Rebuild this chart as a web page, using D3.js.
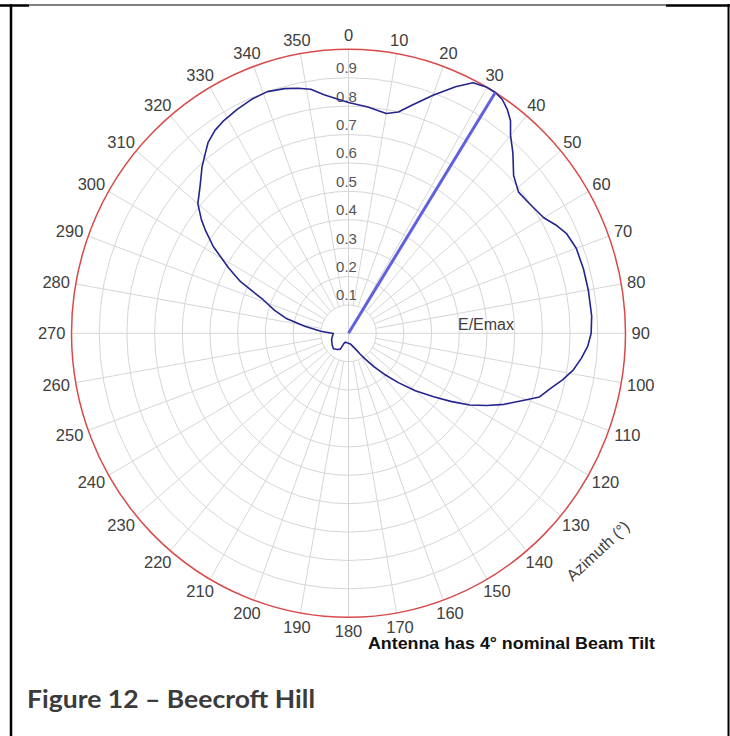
<!DOCTYPE html>
<html><head><meta charset="utf-8">
<script src="https://cdn.jsdelivr.net/npm/d3@7"></script>
<style>body{margin:0;background:#fff} svg{display:block}</style>
</head><body>
<svg id="c" width="730" height="736"></svg>
<script>
// ---- data ----
const azimuth = [0,5,10,13,16,20,24,27,30,32,34,36,38,40,43,47,51,55,60,63,66,70,75,80,86,90,93,96,99,102,105,108,111,114,117,120,123,126,130,134,138,142,146,150,154,160,170,180,190,200,205,208,215,225,235,250,262,269,274,279,283,287,291,295,298,302,305,307,310,314,318,321,323,326,329,333,337,341,345,348,351,354,357,360];
const eRel =    [0.813,0.80,0.786,0.80,0.836,0.892,0.95,0.99,1.0,1.0,0.993,0.975,0.95,0.91,0.87,0.815,0.79,0.797,0.814,0.84,0.862,0.875,0.878,0.879,0.88,0.876,0.865,0.845,0.822,0.79,0.754,0.725,0.665,0.615,0.56,0.505,0.44,0.38,0.315,0.25,0.195,0.15,0.112,0.085,0.066,0.051,0.038,0.035,0.034,0.033,0.04,0.063,0.07,0.077,0.072,0.065,0.058,0.055,0.10,0.16,0.23,0.28,0.33,0.43,0.49,0.575,0.63,0.665,0.71,0.745,0.79,0.82,0.842,0.862,0.874,0.885,0.895,0.90,0.892,0.882,0.87,0.845,0.827,0.813];
const angleTicks = d3.range(0, 360, 10);
const radiusTicks = [0.1,0.2,0.3,0.4,0.5,0.6,0.7,0.8,0.9];
const beamAzimuth = [32];
const beamValue = [1.0];
const axisTitle = "E/Emax";
const angleTitle = "Azimuth (°)";
const noteText = "Antenna has 4° nominal Beam Tilt";
const captionText = "Figure 12 – Beecroft Hill";

// ---- layout ----
const svg = d3.select("#c");
const cx = 348.5, cy = 333.3;
const rX = d3.scaleLinear().domain([0,1]).range([0,277]);
const rY = d3.scaleLinear().domain([0,1]).range([0,284]);
const ang = d3.scaleLinear().domain([0,360]).range([0, 2*Math.PI]);
const px = (a,r) => cx + rX(r)*Math.sin(ang(a));
const py = (a,r) => cy - rY(r)*Math.cos(ang(a));
const FONT = "'Liberation Sans', Arial, sans-serif";

// frame
const frame = svg.append("g").attr("stroke","#000");
frame.append("line").attr("x1",0).attr("x2",29).attr("y1",5.5).attr("y2",5.5).attr("stroke-width",2.5);
frame.append("line").attr("x1",29).attr("x2",666).attr("y1",5).attr("y2",5).attr("stroke-width",1);
frame.append("line").attr("x1",666).attr("x2",730).attr("y1",5.5).attr("y2",5.5).attr("stroke-width",2.5);
frame.append("line").attr("x1",11).attr("x2",11).attr("y1",4).attr("y2",736).attr("stroke-width",2.5);
frame.append("line").attr("x1",728.5).attr("x2",728.5).attr("y1",4).attr("y2",736).attr("stroke-width",2);

// grid
const grid = svg.append("g").attr("fill","none").attr("stroke","#d6d6d6").attr("stroke-width",1);
grid.selectAll("ellipse.r").data(radiusTicks).join("ellipse")
  .attr("cx",cx).attr("cy",cy).attr("rx",d=>rX(d)).attr("ry",d=>rY(d));
grid.selectAll("line.s").data(angleTicks).join("line")
  .attr("x1",d=> px(d, d%90===0 ? 0 : 0.1)).attr("y1",d=> py(d, d%90===0 ? 0 : 0.1))
  .attr("x2",d=>px(d,1)).attr("y2",d=>py(d,1));
svg.append("ellipse").attr("cx",cx).attr("cy",cy).attr("rx",rX(1)).attr("ry",rY(1))
  .attr("fill","none").attr("stroke","#d84a4a").attr("stroke-width",1.5);

// radius labels
svg.append("g").selectAll("text").data(radiusTicks).join("text")
  .attr("x",cx-2).attr("y",d=>py(0,d)-10)
  .attr("text-anchor","middle").attr("dominant-baseline","central")
  .attr("font-family",FONT).attr("font-size",15).attr("fill","#555")
  .text(d=>d3.format(".1f")(d));

// angle labels
svg.append("g").selectAll("text").data(angleTicks).join("text")
  .each(function(d){
    const s = Math.sin(ang(d)), c = Math.cos(ang(d));
    const w = String(d).length*9.2;
    d3.select(this)
      .attr("x", px(d,1) + s*(6 + w/2))
      .attr("y", py(d,1) - c*14);
  })
  .attr("text-anchor","middle").attr("dominant-baseline","central")
  .attr("font-family",FONT).attr("font-size",16.5).attr("fill","#404040")
  .text(d=>d);

// trace
const pts = azimuth.map((a,i)=>({a, r:eRel[i]}));
svg.append("path").datum(pts)
  .attr("d", d3.line().x(d=>px(d.a,d.r)).y(d=>py(d.a,d.r)))
  .attr("fill","none").attr("stroke","#24248e").attr("stroke-width",1.6).attr("stroke-linejoin","round");

// beam direction
svg.append("g").selectAll("line").data(beamAzimuth).join("line")
  .attr("x1",cx).attr("y1",cy)
  .attr("x2",(d,i)=>px(d,beamValue[i])).attr("y2",(d,i)=>py(d,beamValue[i]))
  .attr("stroke","#6060e0").attr("stroke-width",3);

// titles
svg.append("text").attr("x",486).attr("y",324).attr("text-anchor","middle").attr("dominant-baseline","central")
  .attr("font-family",FONT).attr("font-size",16).attr("fill","#404040").text(axisTitle);
svg.append("text").attr("transform","translate(598,551) rotate(-43)")
  .attr("text-anchor","middle").attr("dominant-baseline","central")
  .attr("font-family",FONT).attr("font-size",16).attr("fill","#404040").text(angleTitle);
svg.append("text").attr("x",368).attr("y",649)
  .attr("font-family",FONT).attr("font-size",16.5).attr("font-weight","bold").attr("fill","#111")
  .attr("textLength",287).attr("lengthAdjust","spacingAndGlyphs").text(noteText);
svg.append("text").attr("x",27).attr("y",708)
  .attr("font-family","Lato, 'Open Sans', sans-serif").attr("font-size",24).attr("font-weight","bold").attr("fill","#3b3b3b")
  .attr("textLength",288).attr("lengthAdjust","spacingAndGlyphs").text(captionText);
</script>
</body></html>
